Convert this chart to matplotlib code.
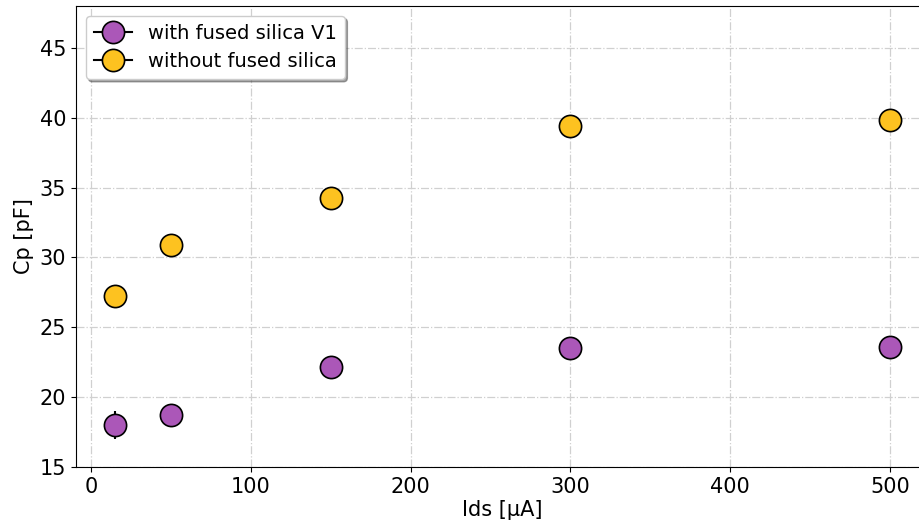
import numpy as np
import matplotlib
matplotlib.use("Agg")
import matplotlib.pyplot as plt
from matplotlib.lines import Line2D

ids = [15, 50, 150, 300, 500]
cp_with = [18.0, 18.72, 22.16, 23.52, 23.59]
cp_with_err = [1.0, 0.3, 0.3, 0.3, 0.3]
cp_without = [27.24, 30.89, 34.26, 39.41, 39.84]
cp_without_err = [0.3, 0.3, 0.3, 0.3, 0.3]

labels = ['with fused silica V1', 'without fused silica']
purple = '#ab57b8'
yellow = '#fdc220'

fig = plt.figure(figsize=(9.19, 5.28), dpi=100)
ax = fig.add_axes([0.0827, 0.1155, 0.928, 0.8731])

ax.errorbar(ids, cp_with, yerr=cp_with_err, fmt='o', color='black', ecolor='black',
            markerfacecolor=purple, markeredgecolor='black', markersize=16,
            markeredgewidth=1.2, zorder=3)
ax.errorbar(ids, cp_without, yerr=cp_without_err, fmt='o', color='black', ecolor='black',
            markerfacecolor=yellow, markeredgecolor='black', markersize=16,
            markeredgewidth=1.2, zorder=3)

ax.set_xlim(-9.25, 524.25)
ax.set_ylim(15, 48)
ax.set_yticks([15, 20, 25, 30, 35, 40, 45])
ax.grid(True, linestyle='-.', color='#d0d0d0', linewidth=0.9)
ax.set_axisbelow(True)
ax.tick_params(labelsize=15)
ax.set_xlabel('Ids [µA]', fontsize=15, labelpad=2)
ax.set_ylabel('Cp [pF]', fontsize=15)

handles = [Line2D([], [], color='black', lw=1.5, marker='o', markersize=16,
                  markerfacecolor=c, markeredgecolor='black', markeredgewidth=1.2)
           for c in [purple, yellow]]
ax.legend(handles, labels, loc='upper left', fontsize=14, shadow=True, framealpha=1,
          handletextpad=0.8, borderpad=0.4)

fig.savefig('out.png', dpi=100)
